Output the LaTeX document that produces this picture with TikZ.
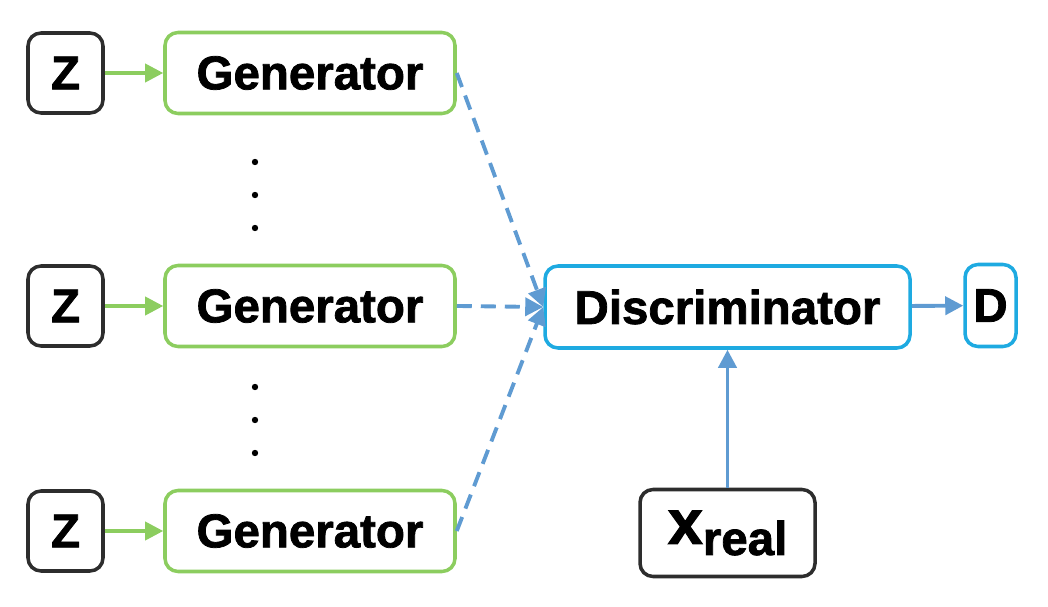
\documentclass[tikz,border=0pt]{standalone}
\usepackage{fontspec}
\setmainfont{Liberation Sans}[BoldFeatures={FakeBold=1.6}]
\usetikzlibrary{arrows.meta}

\definecolor{gengreen}{RGB}{140,205,95}
\definecolor{disccyan}{RGB}{30,170,225}
\definecolor{flowblue}{RGB}{95,155,210}
\definecolor{boxgray}{RGB}{45,45,45}

\tikzset{
    box/.style={draw, rounded corners=1.3mm, line width=1pt, inner sep=1pt,
        font=\fontsize{13.5}{16}\selectfont\bfseries},
    zbox/.style={box, draw=boxgray, minimum width=0.75cm, minimum height=0.8cm},
    genbox/.style={box, draw=gengreen, minimum width=2.9cm, minimum height=0.81cm},
    discbox/.style={box, draw=disccyan, minimum height=0.82cm},
}

\begin{document}
\begin{tikzpicture}[>={Triangle[length=1.8mm,width=1.8mm]}]
        \useasboundingbox (0,0) rectangle (10.48,6.06);

        \node[zbox] at (0.655,5.33) (z1) {Z};
        \node[zbox] at (0.655,3.00) (z2) {Z};
        \node[zbox] at (0.655,0.75) (z3) {Z};
        \node[genbox] at (3.10,5.33) (g1) {Generator};
        \node[genbox] at (3.10,3.00) (g2) {Generator};
        \node[genbox] at (3.10,0.75) (g3) {Generator};
        \node[discbox, minimum width=3.65cm] at (7.275,2.99) (disc) {Discriminator};
        \node[discbox, minimum width=0.51cm] at (9.905,3.005) (out) {D};
        \node[box, draw=boxgray, minimum width=1.75cm, minimum height=0.87cm] at (7.275,0.73) (xr)
            {{\fontsize{18}{20}\selectfont x}\raisebox{-1.1mm}{real}};

        % dots between the generators
        \foreach \y in {4.44,4.11,3.78,2.19,1.86,1.53}
            \fill (2.55,\y) circle (0.032);

        \draw [->, gengreen, line width=1pt] (z1) -- (g1);
        \draw [->, gengreen, line width=1pt] (z2) -- (g2);
        \draw [->, gengreen, line width=1pt] (z3) -- (g3);
        \draw [->, flowblue, line width=1.1pt, dash pattern=on 1.5mm off 0.9mm] (g1.east) -- (disc.west);
        \draw [->, flowblue, line width=1.1pt, dash pattern=on 1.5mm off 0.9mm] (g2.east) -- (disc.west);
        \draw [->, flowblue, line width=1.1pt, dash pattern=on 1.5mm off 0.9mm] (g3.east) -- (disc.west);
        \draw [->, flowblue, line width=1.1pt] (disc) -- (out);
        \draw [->, flowblue, line width=1.1pt] (xr) -- (disc);
    \end{tikzpicture}
\end{document}
